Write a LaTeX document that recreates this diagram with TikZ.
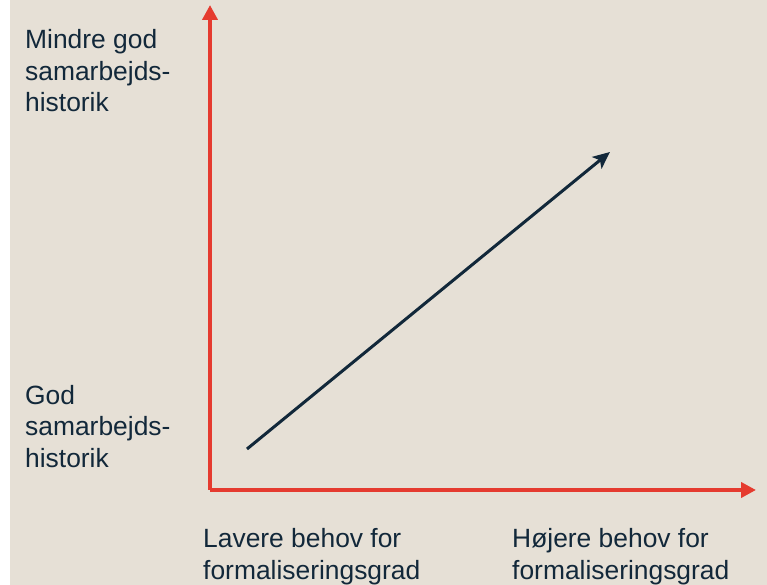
\documentclass[tikz,border=0pt]{standalone}
\usepackage{fontspec}
\setmainfont{Liberation Sans}
\usetikzlibrary{arrows.meta}
\usetikzlibrary{positioning}
\definecolor{paper}{HTML}{E6E0D6}
\definecolor{axisred}{HTML}{E53B2F}
\definecolor{navy}{HTML}{12283A}
\tikzstyle{axis} = [line width=4pt, draw=axisred, -{Triangle[length=15pt, width=15pt]}]
\tikzstyle{trend} = [line width=3pt, draw=navy, -{Stealth[length=17pt, width=15pt, inset=4pt]}]
% base anchor sits on the last line
\tikzstyle{lbl} = [anchor=base west, inner sep=0pt, align=left, text=navy,
font=\fontsize{26.4}{31.6}\selectfont]

\begin{document}
\begin{tikzpicture}[x=1pt, y=1pt]
  \useasboundingbox (0,0) rectangle (767,585);
  \fill[white] (0,0) rectangle (767,585);
  \fill[paper] (10,0) rectangle (767,585);

  \coordinate (origin) at (210,95);
  \coordinate (ytip) at (210,580);
  \coordinate (xtip) at (756,95);
  \coordinate (trendstart) at (247,136);
  \coordinate (trendend) at (610,433);

  \draw[axis] (origin) -- (ytip);
  \draw[axis] (origin) -- (xtip);
  \draw[trend] (trendstart) -- (trendend);

  \node (ytop) [lbl] at (25,473) {Mindre god\\samarbejds-\\historik};
  \node (ybottom) [lbl] at (25,117.5) {God\\samarbejds-\\historik};
  \node (xleft) [lbl] at (203,5.5) {Lavere behov for\\formaliseringsgrad};
  \node (xright) [lbl] at (512,5.5) {Højere behov for\\formaliseringsgrad};

\end{tikzpicture}
\end{document}
